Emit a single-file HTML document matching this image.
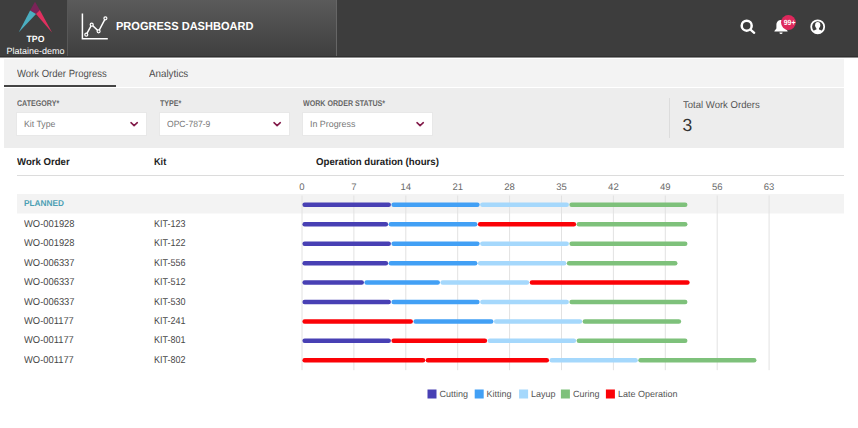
<!DOCTYPE html>
<html><head><meta charset="utf-8"><title>Progress Dashboard</title>
<style>
*{box-sizing:border-box;margin:0;padding:0}
html,body{width:858px;height:428px;overflow:hidden;background:#fff;font-family:"Liberation Sans",sans-serif;text-rendering:geometricPrecision}
body{position:relative}
svg text{text-rendering:geometricPrecision}
.abs{position:absolute}
.hdr{position:absolute;left:0;top:0;width:858px;height:57px;background:#3d3d3d;border-bottom:1px solid #303030;box-shadow:0 1px 0 #8f8f8f}
.logo{position:absolute;left:0;top:0;width:67px;height:56px;background:#3e3e3e}
.title{position:absolute;left:67px;top:0;width:270px;height:56px;background:linear-gradient(#5b5b5b,#3f3f3f);border-left:1px solid #585858;border-right:1px solid #666}
.title span{position:absolute;left:47.8px;top:20.1px;color:#fff;font-weight:bold;font-size:11.7px;white-space:nowrap;transform-origin:0 50%;transform:scaleX(0.945)}
.tpo{position:absolute;left:4px;width:63px;text-align:center;color:#fff;font-size:9px;white-space:nowrap}
.tabs{position:absolute;left:4px;top:59px;width:840px;height:28px;background:#f3f3f3}
.tab{position:absolute;top:10px;font-size:10.4px;color:#4e4e4e;white-space:nowrap;transform-origin:0 50%;transform:scaleX(0.916)}
.ul{position:absolute;left:0;top:26px;width:112px;height:2px;background:#444}
.filt{position:absolute;left:4px;top:88px;width:840px;height:60px;background:#ededed}
.lbl{position:absolute;top:10px;font-size:8.3px;font-weight:bold;color:#666;white-space:nowrap;transform-origin:0 50%;transform:scaleX(0.855)}
.sel{position:absolute;top:25px;width:129px;height:22px;background:#fff;box-shadow:0 0 0 1px #e8e8e8;font-size:9px;color:#777;line-height:22px;padding-left:0;white-space:nowrap}
.sel span{position:absolute;left:6.8px;top:0.3px;transform-origin:0 50%;transform:scaleX(0.97)}
.sel svg{position:absolute;right:7.5px;top:8.4px}
.sep{position:absolute;left:664.5px;top:10px;width:1px;height:40px;background:#dcdcdc}
.twl{position:absolute;left:678.7px;top:12px;font-size:10px;color:#555;white-space:nowrap;transform-origin:0 50%;transform:scaleX(0.954)}
.twn{position:absolute;left:678.5px;top:27px;font-size:17.5px;color:#333}
.th{position:absolute;top:156.6px;font-size:10px;font-weight:bold;color:#222;white-space:nowrap;transform-origin:0 50%;transform:scaleX(0.96)}
.hl{position:absolute;left:17px;top:175px;width:827px;height:1px;background:#dcdcdc}
.grp{position:absolute;left:17px;top:194px;width:827px;height:19px;background:#f3f3f3;box-shadow:0 1px 0 #f9f9f9}
.grp span{position:absolute;left:6.5px;top:4.2px;font-size:8.5px;font-weight:bold;color:#4c9fb3;transform-origin:0 50%;transform:scaleX(0.975)}
.cell{position:absolute;font-size:10px;color:#474747;white-space:nowrap;transform-origin:0 50%;transform:scaleX(0.937)}
.chart{position:absolute;left:0;top:0}
.tick{font-size:9.5px;fill:#6a6a6a;font-family:"Liberation Sans",sans-serif}
.leg{font-size:9px;fill:#555;font-family:"Liberation Sans",sans-serif}
</style></head><body>
<div class="hdr">
 <div class="logo">
  <svg class="abs" style="left:0;top:0" width="67" height="36" viewBox="0 0 67 36">
   <polygon points="35,1.700 30.100,10.600 36,14 39.800,10" fill="#7a2358"/>
   <polygon points="30.100,10.600 36,14 18.800,32.200" fill="#4baec0"/>
   <polygon points="39.800,10 36,14 52.200,32.800" fill="#e0305f"/>
  </svg>
  <div class="tpo" style="top:34.3px;font-weight:bold;transform:scaleX(0.965)">TPO</div>
  <div class="tpo" style="top:46px">Plataine-demo</div>
 </div>
 <div class="title">
  <svg class="abs" style="left:-1px;top:0" width="60" height="56" viewBox="67 0 60 56" fill="none" stroke="#fff">
   <path d="M82.4 13.4V38.7H107.8" stroke-width="1.5"/>
   <path d="M86.3 34.7L91.7 24.7L98.6 31.3L105.4 18.3" stroke-width="1.500"/>
   <g fill="#555" stroke-width="1.200"><circle cx="86.3" cy="34.7" r="1.500"/><circle cx="91.7" cy="24.7" r="1.500"/><circle cx="98.6" cy="31.3" r="1.500"/><circle cx="105.4" cy="18.3" r="1.500"/></g>
  </svg>
  <span>PROGRESS DASHBOARD</span>
 </div>
 <svg class="abs" style="left:730px;top:10px" width="110" height="36" viewBox="730 10 110 36">
  <circle cx="746.7" cy="25.7" r="5" fill="none" stroke="#fff" stroke-width="2.500"/>
  <path d="M750.8 29.8L754.2 32.800" stroke="#fff" stroke-width="2.300" stroke-linecap="round"/>
  <path d="M781 20c-3 0-4.6 2.2-4.6 5.2v3.2l-2 2.6v0.6h13.2v-0.6l-2-2.6v-3.2c0-3-1.6-5.2-4.6-5.200z" fill="#fff"/>
  <path d="M779.4 32.400h3.200a1.6 1.600 0 0 1-3.200 0z" fill="#fff"/>
  <circle cx="788.4" cy="22.500" r="7.400" fill="#de285c"/>
  <text x="789.6" y="25" text-anchor="middle" font-size="7.500" font-weight="bold" fill="#fff" font-family="Liberation Sans, sans-serif" textLength="11.700" lengthAdjust="spacingAndGlyphs">99+</text>
  <clipPath id="uc"><circle cx="817.7" cy="26.8" r="6.400"/></clipPath>
  <circle cx="817.7" cy="26.8" r="6.500" fill="none" stroke="#fff" stroke-width="1.800"/>
  <g clip-path="url(#uc)" fill="#fff"><ellipse cx="817.7" cy="25.200" rx="2.600" ry="3.100"/><rect x="816.4" y="27" width="2.600" height="4"/><ellipse cx="817.7" cy="33.700" rx="5.800" ry="4.300"/></g>
 </svg>
</div>
<div class="tabs">
 <div class="tab" style="left:13px">Work Order Progress</div>
 <div class="tab" style="left:145px;transform:scaleX(0.942)">Analytics</div>
 <div class="ul"></div>
</div>
<div class="filt">
 <div class="lbl" style="left:13px">CATEGORY*</div>
 <div class="lbl" style="left:156px">TYPE*</div>
 <div class="lbl" style="left:299px">WORK ORDER STATUS*</div>
 <div class="sel" style="left:13px"><span style="left:7.3px">Kit Type</span><svg width="10" height="7" viewBox="0 0 10 7"><path d="M2 1.700L5.100 4.600L8.300 1.700" fill="none" stroke="#821a49" stroke-width="1.600" stroke-linecap="round" stroke-linejoin="round"/></svg></div>
 <div class="sel" style="left:156px"><span style="transform:scaleX(0.95)">OPC-787-9</span><svg width="10" height="7" viewBox="0 0 10 7"><path d="M2 1.700L5.100 4.600L8.300 1.700" fill="none" stroke="#821a49" stroke-width="1.600" stroke-linecap="round" stroke-linejoin="round"/></svg></div>
 <div class="sel" style="left:299px"><span style="transform:scaleX(0.985)">In Progress</span><svg width="10" height="7" viewBox="0 0 10 7"><path d="M2 1.700L5.100 4.600L8.300 1.700" fill="none" stroke="#821a49" stroke-width="1.600" stroke-linecap="round" stroke-linejoin="round"/></svg></div>
 <div class="sep"></div>
 <div class="twl">Total Work Orders</div>
 <div class="twn">3</div>
</div>
<div class="th" style="left:17px">Work Order</div>
<div class="th" style="left:153.5px;transform:scaleX(0.915)">Kit</div>
<div class="th" style="left:315.8px;transform:scaleX(0.966)">Operation duration (hours)</div>
<div class="hl"></div>
<div class="grp"><span>PLANNED</span></div>
<div class="cell" style="left:23.5px;top:218.8px">WO-001928</div><div class="cell" style="left:153.5px;top:218.8px;transform:scaleX(0.897)">KIT-123</div><div class="cell" style="left:23.5px;top:238.3px">WO-001928</div><div class="cell" style="left:153.5px;top:238.3px;transform:scaleX(0.897)">KIT-122</div><div class="cell" style="left:23.5px;top:257.7px">WO-006337</div><div class="cell" style="left:153.5px;top:257.7px;transform:scaleX(0.897)">KIT-556</div><div class="cell" style="left:23.5px;top:277.1px">WO-006337</div><div class="cell" style="left:153.5px;top:277.1px;transform:scaleX(0.897)">KIT-512</div><div class="cell" style="left:23.5px;top:296.5px">WO-006337</div><div class="cell" style="left:153.5px;top:296.5px;transform:scaleX(0.897)">KIT-530</div><div class="cell" style="left:23.5px;top:315.9px">WO-001177</div><div class="cell" style="left:153.5px;top:315.9px;transform:scaleX(0.897)">KIT-241</div><div class="cell" style="left:23.5px;top:335.3px">WO-001177</div><div class="cell" style="left:153.5px;top:335.3px;transform:scaleX(0.897)">KIT-801</div><div class="cell" style="left:23.5px;top:354.7px">WO-001177</div><div class="cell" style="left:153.5px;top:354.7px;transform:scaleX(0.897)">KIT-802</div>
<svg class="chart" width="858" height="428" viewBox="0 0 858 428"><line x1="302.0" y1="195.5" x2="302.0" y2="370.2" stroke="#e2e2e2" stroke-width="1"/><text x="302.0" y="190.3" text-anchor="middle" class="tick">0</text><line x1="353.9" y1="195.5" x2="353.9" y2="370.2" stroke="#e2e2e2" stroke-width="1"/><text x="353.9" y="190.3" text-anchor="middle" class="tick">7</text><line x1="405.8" y1="195.5" x2="405.8" y2="370.2" stroke="#e2e2e2" stroke-width="1"/><text x="405.8" y="190.3" text-anchor="middle" class="tick">14</text><line x1="457.7" y1="195.5" x2="457.7" y2="370.2" stroke="#e2e2e2" stroke-width="1"/><text x="457.7" y="190.3" text-anchor="middle" class="tick">21</text><line x1="509.6" y1="195.5" x2="509.6" y2="370.2" stroke="#e2e2e2" stroke-width="1"/><text x="509.6" y="190.3" text-anchor="middle" class="tick">28</text><line x1="561.5" y1="195.5" x2="561.5" y2="370.2" stroke="#e2e2e2" stroke-width="1"/><text x="561.5" y="190.3" text-anchor="middle" class="tick">35</text><line x1="613.4" y1="195.5" x2="613.4" y2="370.2" stroke="#e2e2e2" stroke-width="1"/><text x="613.4" y="190.3" text-anchor="middle" class="tick">42</text><line x1="665.3" y1="195.5" x2="665.3" y2="370.2" stroke="#e2e2e2" stroke-width="1"/><text x="665.3" y="190.3" text-anchor="middle" class="tick">49</text><line x1="717.2" y1="195.5" x2="717.2" y2="370.2" stroke="#e2e2e2" stroke-width="1"/><text x="717.2" y="190.3" text-anchor="middle" class="tick">56</text><line x1="769.1" y1="195.5" x2="769.1" y2="370.2" stroke="#e2e2e2" stroke-width="1"/><text x="769.1" y="190.3" text-anchor="middle" class="tick">63</text><line x1="304.65" y1="204.8" x2="388.70" y2="204.8" stroke="#4840b4" stroke-width="4.5" stroke-linecap="round"/><line x1="393.65" y1="204.8" x2="477.40" y2="204.8" stroke="#42a0f5" stroke-width="4.5" stroke-linecap="round"/><line x1="482.35" y1="204.8" x2="566.70" y2="204.8" stroke="#a5d8fc" stroke-width="4.5" stroke-linecap="round"/><line x1="571.65" y1="204.8" x2="685.20" y2="204.8" stroke="#7ec17b" stroke-width="4.5" stroke-linecap="round"/><line x1="304.65" y1="224.3" x2="385.90" y2="224.3" stroke="#4840b4" stroke-width="4.5" stroke-linecap="round"/><line x1="390.85" y1="224.3" x2="475.20" y2="224.3" stroke="#42a0f5" stroke-width="4.5" stroke-linecap="round"/><line x1="480.15" y1="224.3" x2="573.90" y2="224.3" stroke="#fb0207" stroke-width="4.5" stroke-linecap="round"/><line x1="578.85" y1="224.3" x2="685.20" y2="224.3" stroke="#7ec17b" stroke-width="4.5" stroke-linecap="round"/><line x1="304.65" y1="243.8" x2="388.70" y2="243.8" stroke="#4840b4" stroke-width="4.5" stroke-linecap="round"/><line x1="393.65" y1="243.8" x2="477.40" y2="243.8" stroke="#42a0f5" stroke-width="4.5" stroke-linecap="round"/><line x1="482.35" y1="243.8" x2="566.70" y2="243.8" stroke="#a5d8fc" stroke-width="4.5" stroke-linecap="round"/><line x1="571.65" y1="243.8" x2="685.20" y2="243.8" stroke="#7ec17b" stroke-width="4.5" stroke-linecap="round"/><line x1="304.65" y1="263.2" x2="385.90" y2="263.2" stroke="#4840b4" stroke-width="4.5" stroke-linecap="round"/><line x1="390.85" y1="263.2" x2="475.20" y2="263.2" stroke="#42a0f5" stroke-width="4.5" stroke-linecap="round"/><line x1="480.15" y1="263.2" x2="564.10" y2="263.2" stroke="#a5d8fc" stroke-width="4.5" stroke-linecap="round"/><line x1="569.05" y1="263.2" x2="675.20" y2="263.2" stroke="#7ec17b" stroke-width="4.5" stroke-linecap="round"/><line x1="304.65" y1="282.6" x2="361.70" y2="282.6" stroke="#4840b4" stroke-width="4.5" stroke-linecap="round"/><line x1="366.65" y1="282.6" x2="437.70" y2="282.6" stroke="#42a0f5" stroke-width="4.5" stroke-linecap="round"/><line x1="442.65" y1="282.6" x2="527.00" y2="282.6" stroke="#a5d8fc" stroke-width="4.5" stroke-linecap="round"/><line x1="531.95" y1="282.6" x2="687.40" y2="282.6" stroke="#fb0207" stroke-width="4.5" stroke-linecap="round"/><line x1="304.65" y1="302.0" x2="388.70" y2="302.0" stroke="#4840b4" stroke-width="4.5" stroke-linecap="round"/><line x1="393.65" y1="302.0" x2="477.40" y2="302.0" stroke="#42a0f5" stroke-width="4.5" stroke-linecap="round"/><line x1="482.35" y1="302.0" x2="566.70" y2="302.0" stroke="#a5d8fc" stroke-width="4.5" stroke-linecap="round"/><line x1="571.65" y1="302.0" x2="685.20" y2="302.0" stroke="#7ec17b" stroke-width="4.5" stroke-linecap="round"/><line x1="304.65" y1="321.4" x2="410.70" y2="321.4" stroke="#fb0207" stroke-width="4.5" stroke-linecap="round"/><line x1="415.65" y1="321.4" x2="491.20" y2="321.4" stroke="#42a0f5" stroke-width="4.5" stroke-linecap="round"/><line x1="496.15" y1="321.4" x2="579.90" y2="321.4" stroke="#a5d8fc" stroke-width="4.5" stroke-linecap="round"/><line x1="584.85" y1="321.4" x2="678.90" y2="321.4" stroke="#7ec17b" stroke-width="4.5" stroke-linecap="round"/><line x1="304.65" y1="340.8" x2="388.70" y2="340.8" stroke="#4840b4" stroke-width="4.5" stroke-linecap="round"/><line x1="393.65" y1="340.8" x2="484.90" y2="340.8" stroke="#fb0207" stroke-width="4.5" stroke-linecap="round"/><line x1="489.85" y1="340.8" x2="573.90" y2="340.8" stroke="#a5d8fc" stroke-width="4.5" stroke-linecap="round"/><line x1="578.85" y1="340.8" x2="685.20" y2="340.8" stroke="#7ec17b" stroke-width="4.5" stroke-linecap="round"/><line x1="304.65" y1="360.2" x2="423.00" y2="360.2" stroke="#fb0207" stroke-width="4.5" stroke-linecap="round"/><line x1="427.95" y1="360.2" x2="546.80" y2="360.2" stroke="#fb0207" stroke-width="4.5" stroke-linecap="round"/><line x1="551.75" y1="360.2" x2="635.60" y2="360.2" stroke="#a5d8fc" stroke-width="4.5" stroke-linecap="round"/><line x1="640.55" y1="360.2" x2="754.20" y2="360.2" stroke="#7ec17b" stroke-width="4.5" stroke-linecap="round"/><rect x="427.5" y="389.5" width="9" height="9" fill="#4840b4"/><text x="439.5" y="396.6" class="leg">Cutting</text><rect x="474.7" y="389.5" width="9" height="9" fill="#42a0f5"/><text x="486.5" y="396.6" class="leg">Kitting</text><rect x="519.1" y="389.5" width="9" height="9" fill="#a5d8fc"/><text x="530.9" y="396.6" class="leg">Layup</text><rect x="560.9" y="389.5" width="9" height="9" fill="#7ec17b"/><text x="573" y="396.6" class="leg">Curing</text><rect x="605.9" y="389.5" width="9" height="9" fill="#fb0207"/><text x="618" y="396.6" class="leg">Late Operation</text></svg>
</body></html>
